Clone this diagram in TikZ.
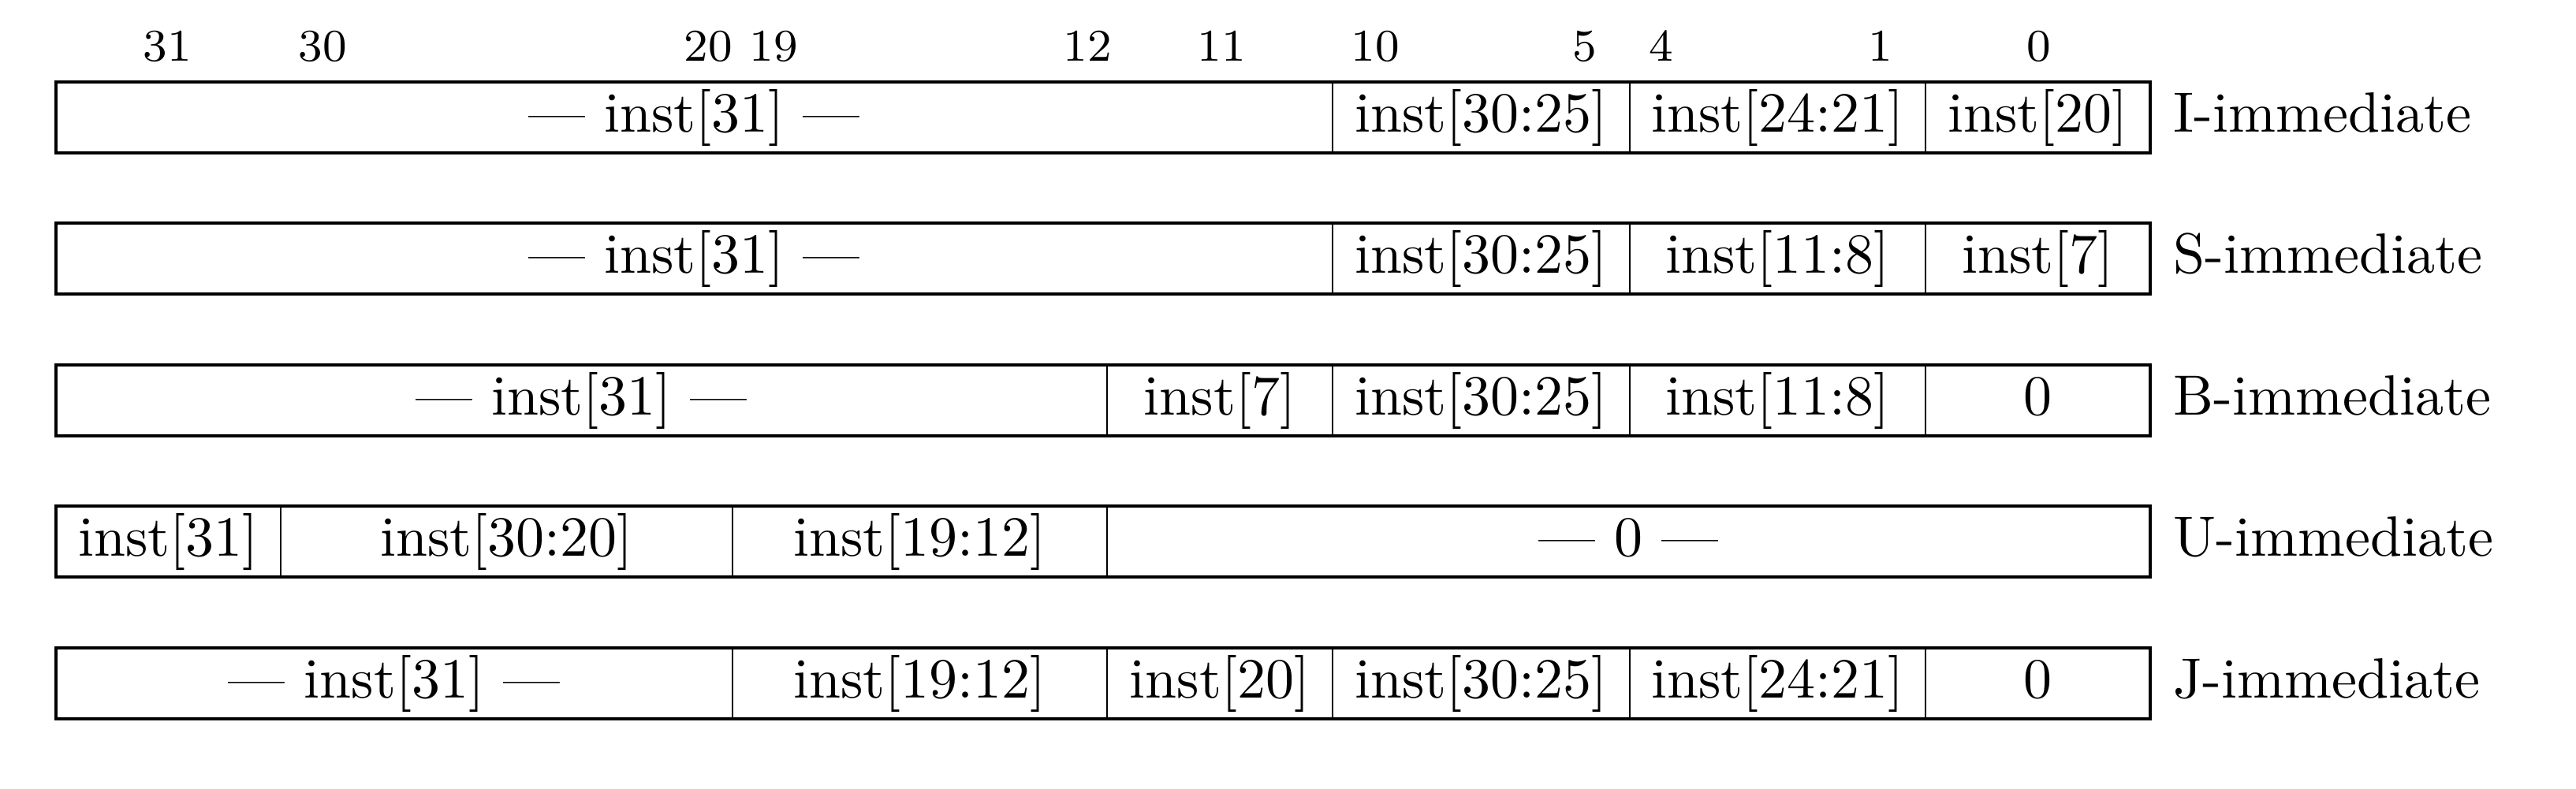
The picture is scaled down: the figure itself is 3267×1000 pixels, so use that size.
\documentclass[tikz,border=0pt]{standalone}
\begin{document}
\begin{tikzpicture}[x=0.13889pt,y=-0.13889pt,
  outerbox/.style={draw=black,line width=0.55pt},
  innerbox/.style={draw=black,line width=0.3pt},
  celltext/.style={inner sep=0pt,text height=7.5pt,text depth=2.5pt,font=\normalsize},
  bitlabel/.style={inner sep=0pt,anchor=base,font=\footnotesize},
  rowlabel/.style={inner sep=0pt,anchor=base west,font=\normalsize}]
\useasboundingbox (0,0) rectangle (3267,1000);
\newcommand\mycell[5]{%
  \draw[innerbox] (#2,#4) rectangle (#3,#4+90);
  \node[celltext] (#1) at ({(#2+#3)/2},#4+45) {#5};}
\newcommand\myrow[3]{%
  \draw[outerbox] (71,#2) rectangle (2727,#2+90);
  \node[rowlabel] (#1) at (2755,#2+63) {#3};}
% bit numbers
\node[bitlabel] (b31) at (212,77) {31};
\node[bitlabel] (b30) at (409,77) {30};
\node[bitlabel] (b20) at (898,77) {20};
\node[bitlabel] (b19) at (981,77) {19};
\node[bitlabel] (b12) at (1379,77) {12};
\node[bitlabel] (b11) at (1549,77) {11};
\node[bitlabel] (b10) at (1744,77) {10};
\node[bitlabel] (b5) at (2010,77) {5};
\node[bitlabel] (b4) at (2107,77) {4};
\node[bitlabel] (b1) at (2385,77) {1};
\node[bitlabel] (b0) at (2586,77) {0};
% I-immediate
\mycell{i1}{71}{1690}{104}{--- inst[31] ---}
\mycell{i2}{1690}{2067}{104}{inst[30:25]}
\mycell{i3}{2067}{2442}{104}{inst[24:21]}
\mycell{i4}{2442}{2727}{104}{inst[20]}
\myrow{li}{104}{I-immediate}
% S-immediate
\mycell{s1}{71}{1690}{283}{--- inst[31] ---}
\mycell{s2}{1690}{2067}{283}{inst[30:25]}
\mycell{s3}{2067}{2442}{283}{inst[11:8]}
\mycell{s4}{2442}{2727}{283}{inst[7]}
\myrow{ls}{283}{S-immediate}
% B-immediate
\mycell{bb1}{71}{1404}{463}{--- inst[31] ---}
\mycell{bb2}{1404}{1690}{463}{inst[7]}
\mycell{bb3}{1690}{2067}{463}{inst[30:25]}
\mycell{bb4}{2067}{2442}{463}{inst[11:8]}
\mycell{bb5}{2442}{2727}{463}{0}
\myrow{lb}{463}{B-immediate}
% U-immediate
\mycell{u1}{71}{356}{642}{inst[31]}
\mycell{u2}{356}{929}{642}{inst[30:20]}
\mycell{u3}{929}{1404}{642}{inst[19:12]}
\mycell{u4}{1404}{2727}{642}{--- 0 ---}
\myrow{lu}{642}{U-immediate}
% J-immediate
\mycell{j1}{71}{929}{822}{--- inst[31] ---}
\mycell{j2}{929}{1404}{822}{inst[19:12]}
\mycell{j3}{1404}{1690}{822}{inst[20]}
\mycell{j4}{1690}{2067}{822}{inst[30:25]}
\mycell{j5}{2067}{2442}{822}{inst[24:21]}
\mycell{j6}{2442}{2727}{822}{0}
\myrow{lj}{822}{J-immediate}
\end{tikzpicture}
\end{document}
